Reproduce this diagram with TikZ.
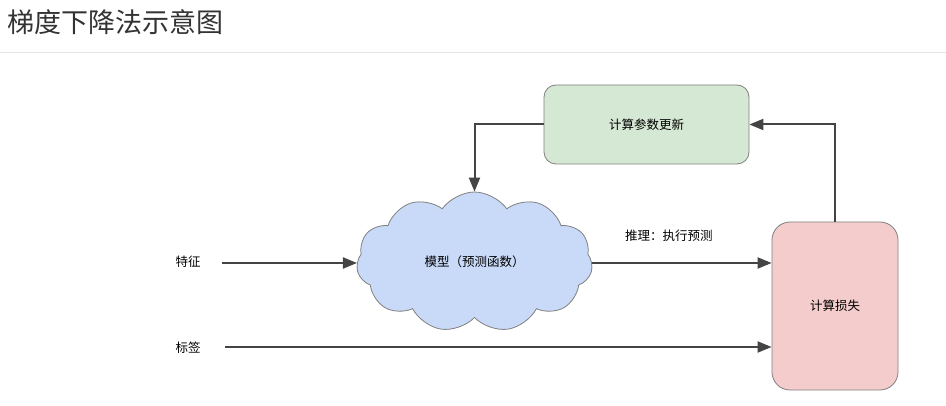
\documentclass[tikz,border=0pt]{standalone}
\usepackage{fontspec}
\setmainfont{Noto Sans CJK SC}
\usetikzlibrary{arrows.meta,shapes.symbols}
\definecolor{linegray}{HTML}{444444}
\definecolor{edgegray}{HTML}{808080}
\definecolor{greenfill}{HTML}{D5E8D4}
\definecolor{redfill}{HTML}{F4CCCC}
\definecolor{bluefill}{HTML}{C9DAF8}
\definecolor{titlegray}{HTML}{333333}
\tikzset{
  lbl/.style={font=\fontsize{12.5}{14}\selectfont, text=black, inner sep=0pt},
  flow/.style={draw=linegray, line width=2pt, -{Triangle[length=14pt,width=11pt]}},
  stepbox/.style={draw=edgegray, line width=0.8pt, rounded corners=#1, lbl},
}
\begin{document}
\begin{tikzpicture}[x=1pt,y=-1pt]
  \useasboundingbox (0,0) rectangle (946,406);
  \fill[white] (0,0) rectangle (946,406);

  % page heading and rule
  \node[anchor=west, inner sep=0pt, text=titlegray, font=\fontsize{27}{31}\selectfont] (title) at (7,22) {梯度下降法示意图};
  \draw[draw=black!10, line width=1pt] (0,53) -- (946,53);

  % boxes
  \node[stepbox=12pt, fill=greenfill, minimum width=205pt, minimum height=79pt] (update) at (646.5,124.5) {计算参数更新};
  \node[stepbox=18pt, fill=redfill, minimum width=126pt, minimum height=168pt] (loss) at (835,306) {计算损失};
  \node[cloud, cloud puffs=11, cloud puff arc=110, aspect=1.75, draw=edgegray, line width=0.8pt, fill=bluefill,
        minimum width=236pt, minimum height=140pt, lbl] (model) at (474.5,262) {模型（预测函数）};

  % inputs
  \node[lbl] (feat) at (188,262) {特征};
  \node[lbl] (label) at (188,348) {标签};
  \coordinate (featend) at (222,263);
  \coordinate (labelend) at (225,347);

  % connectors
  \draw[flow] (featend) -- (model.west |- featend);
  \draw[flow] (labelend) -- (loss.west |- labelend);
  \draw[flow] (model.east |- featend) -- node[lbl, above=20pt, xshift=-13pt] (infer) {推理：执行预测} (loss.west |- featend);
  \draw[flow] (loss.north) |- (update.east);
  \draw[flow] (update.west) -| (model.north);
\end{tikzpicture}
\end{document}
